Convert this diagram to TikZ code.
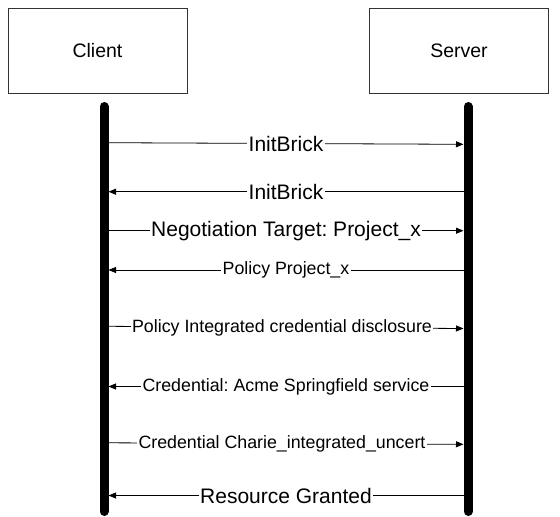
\documentclass[tikz,border=0pt]{standalone}
\usepackage{fontspec}
\setmainfont{Liberation Sans}
\usetikzlibrary{arrows.meta}
\frenchspacing
\begin{document}
\begin{tikzpicture}[x=1pt,y=-1pt,
  actor/.style={draw=black!80,line width=0.9pt,minimum width=179pt,minimum height=84.5pt,inner sep=0pt,
    font=\fontsize{19.5}{23}\selectfont},
  lifeline/.style={line width=9pt,line cap=round,black},
  msg/.style={line width=0.8pt,black,-{Triangle[length=7.5pt,width=6pt]}},
  big/.style={fill=white,inner sep=1.2pt,font=\fontsize{21}{24}\selectfont},
  small/.style={fill=white,inner sep=1.2pt,font=\fontsize{17.8}{21}\selectfont}]
\useasboundingbox (0,0) rectangle (560,517);
% actors
\node[actor] (client) at (97.5,50.8) {Client};
\node[actor] (server) at (459,50.8) {Server};
% lifelines
\coordinate (ctop) at (104,106.5);
\coordinate (cbot) at (104,511.5);
\coordinate (stop) at (468,106.5);
\coordinate (sbot) at (468,511.5);
\draw[lifeline] (ctop) -- (cbot);
\draw[lifeline] (stop) -- (sbot);
% message end points
\coordinate (c1) at (108.5,142.7);  \coordinate (s1) at (463.5,144.3);
\coordinate (c2) at (108.5,191.7);  \coordinate (s2) at (463.5,191.7);
\coordinate (c3) at (108.5,230.7);  \coordinate (s3) at (463.5,230.7);
\coordinate (c4) at (108.5,270);    \coordinate (s4) at (463.5,270);
\coordinate (c5) at (108.5,326.3);  \coordinate (s5) at (463.5,328.5);
\coordinate (c6) at (108.5,386.5);  \coordinate (s6) at (463.5,386.5);
\coordinate (c7) at (108.5,442.8);  \coordinate (s7) at (463.5,444.3);
\coordinate (c8) at (108.5,495.5);  \coordinate (s8) at (463.5,495.5);
% messages
\draw[msg] (c1) -- node[big] {InitBrick} (s1);
\draw[msg] (s2) -- node[big] {InitBrick} (c2);
\draw[msg] (c3) -- node[big] {Negotiation Target: Project\_x} (s3);
\draw[msg] (s4) -- node[small] {Policy Project\_x} (c4);
\draw[msg] (c5) -- node[small,xshift=-4pt] {Policy Integrated credential disclosure} (s5);
\draw[msg] (s6) -- node[small] {Credential: Acme Springfield service} (c6);
\draw[msg] (c7) -- node[small,xshift=-4pt] {Credential Charie\_integrated\_uncert} (s7);
\draw[msg] (s8) -- node[big] {Resource Granted} (c8);
\end{tikzpicture}
\end{document}
